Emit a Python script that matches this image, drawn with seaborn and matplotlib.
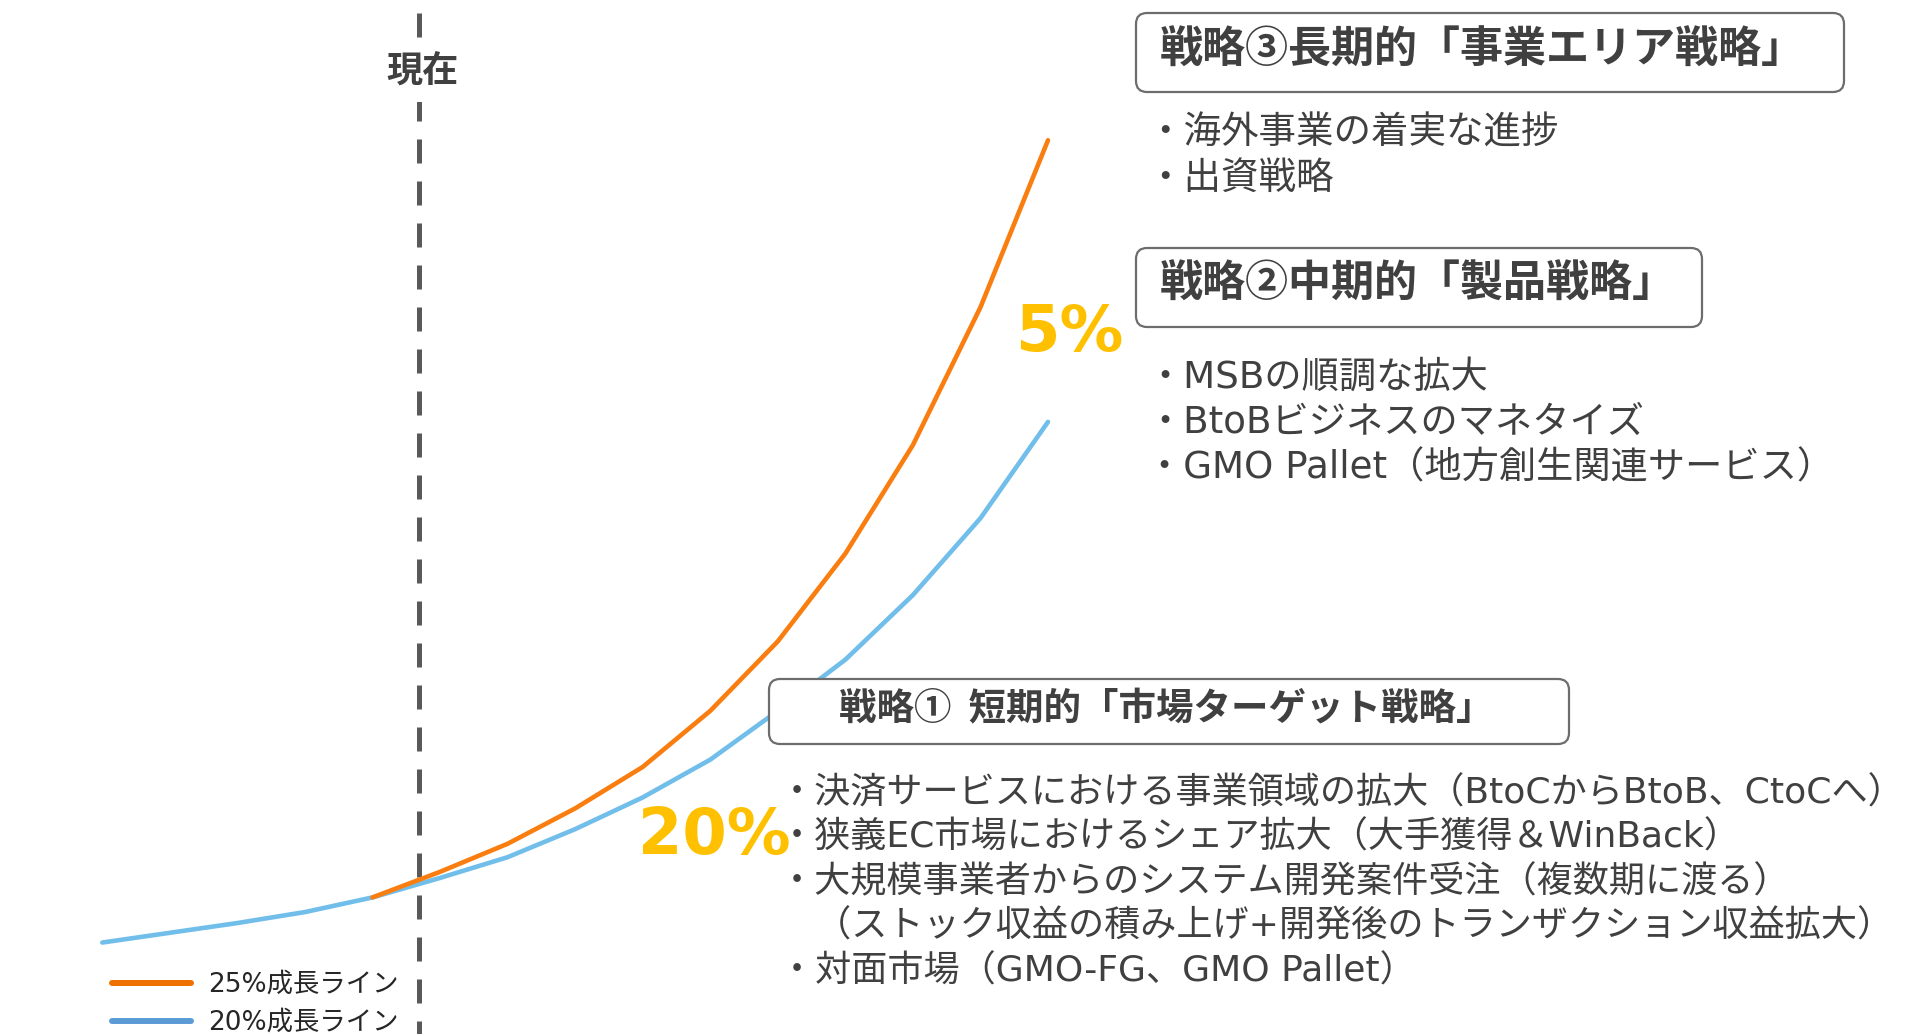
import matplotlib
matplotlib.use("Agg")
import pandas as pd
import matplotlib.pyplot as plt
import seaborn as sns
from matplotlib.lines import Line2D
from matplotlib.patches import FancyBboxPatch
from matplotlib.transforms import IdentityTransform

# Values (arbitrary units, 0 = bottom edge)
periods_20 = list(range(15))
line_20 = [75, 83, 91, 100, 112, 128, 145, 168, 194, 225, 265, 307, 360, 423, 502]
periods_25 = list(range(4, 15))
line_25 = [112, 133, 156, 185, 219, 265, 322, 394, 483, 596, 733]
series_names = ["25%成長ライン", "20%成長ライン"]
now_period = 4.69
now_label = "現在"
gap_labels = ["5%", "20%"]

title_3 = "戦略③長期的「事業エリア戦略」"
bullets_3 = ["・海外事業の着実な進捗", "・出資戦略"]
title_2 = "戦略②中期的「製品戦略」"
bullets_2 = ["・MSBの順調な拡大", "・BtoBビジネスのマネタイズ", "・GMO Pallet（地方創生関連サービス）"]
title_1 = "戦略①  短期的「市場ターゲット戦略」"
bullets_1 = [
    "・決済サービスにおける事業領域の拡大（BtoCからBtoB、CtoCへ）",
    "・狭義EC市場におけるシェア拡大（大手獲得＆WinBack）",
    "・大規模事業者からのシステム開発案件受注（複数期に渡る）",
    "　（ストック収益の積み上げ+開発後のトランザクション収益拡大）",
    "・対面市場（GMO-FG、GMO Pallet）",
]

W, H = 1912, 1034
sns.set_theme(style="white")
plt.rcParams["font.family"] = ["Noto Sans CJK JP", "DejaVu Sans"]
body_font = ["DejaVu Sans", "Noto Sans CJK JP"]
TXT = "#404040"

df = pd.concat([
    pd.DataFrame({"period": periods_25, "value": line_25, "series": series_names[0]}),
    pd.DataFrame({"period": periods_20, "value": line_20, "series": series_names[1]}),
])

fig = plt.figure(figsize=(W / 100, H / 100), dpi=100)
ax = fig.add_axes([0, 0, 1, 1])
sns.lineplot(data=df, x="period", y="value", hue="series",
             hue_order=[series_names[1], series_names[0]],
             palette={series_names[0]: "#FA7D0F", series_names[1]: "#71BEEB"},
             linewidth=3.3, legend=False, ax=ax, zorder=2)
ax.set_xlim(-1.514, 26.79)
ax.set_ylim(0, 848)
ax.axis("off")

# "now" marker
top = 848 * (1 - 13 / H)
ax.plot([now_period, now_period], [top, 0], color="#595959", lw=3.6,
        dashes=(4.8, 3.6), zorder=1)


def fx(x):
    return x / W


def fy(y):
    return 1 - y / H


fig.text(fx(422), fy(71), now_label, ha="center", va="center", fontsize=26,
         fontweight="bold", color=TXT,
         bbox=dict(boxstyle="square,pad=0.35", fc="white", ec="none"), zorder=3)


def box(x0, y0, x1, y1):
    p = FancyBboxPatch((x0, H - y1), x1 - x0, y1 - y0,
                       boxstyle="round,pad=0,rounding_size=11",
                       transform=IdentityTransform(), fc="white", ec="#6d6d6d",
                       lw=1.6, zorder=4)
    fig.patches.append(p)


box(1136, 13, 1844, 92)
fig.text(fx(1160), fy(50), title_3, ha="left", va="center", fontsize=31,
         fontweight="bold", color=TXT, zorder=5)
for i, t in enumerate(bullets_3):
    fig.text(fx(1146), fy(134 + 45 * i), t, ha="left", va="center", fontsize=27,
             color=TXT, family=body_font)

box(1136, 248, 1702, 327)
fig.text(fx(1160), fy(284), title_2, ha="left", va="center", fontsize=31,
         fontweight="bold", color=TXT, zorder=5)
for i, t in enumerate(bullets_2):
    fig.text(fx(1146), fy(377 + 45.5 * i), t, ha="left", va="center", fontsize=26.8,
             color=TXT, family=body_font)

box(769, 679, 1569, 744)
fig.text(fx(1166), fy(709), title_1, ha="center", va="center", fontsize=27,
         fontweight="bold", color=TXT, zorder=5)
for i, t in enumerate(bullets_1):
    fig.text(fx(779), fy(793 + 44.6 * i), t, ha="left", va="center", fontsize=26,
             color=TXT, family=body_font)

fig.text(fx(1069), fy(333), gap_labels[0], ha="center", va="center",
         fontsize=46, fontweight="bold", color="#FFC000", family="DejaVu Sans")
fig.text(fx(714), fy(836), gap_labels[1], ha="center", va="center",
         fontsize=46, fontweight="bold", color="#FFC000", family="DejaVu Sans")

handles = [Line2D([], [], color="#EE7000", lw=4.3),
           Line2D([], [], color="#5B9BD5", lw=4.3)]
ax.legend(handles, series_names, loc="upper left",
          bbox_to_anchor=(fx(112), fy(972)), bbox_transform=fig.transFigure,
          frameon=False, borderpad=0, borderaxespad=0, handlelength=3.0,
          handletextpad=0.65, labelspacing=0.45,
          prop={"family": body_font, "size": 19})

fig.savefig("out.png", dpi=100, facecolor="white")
